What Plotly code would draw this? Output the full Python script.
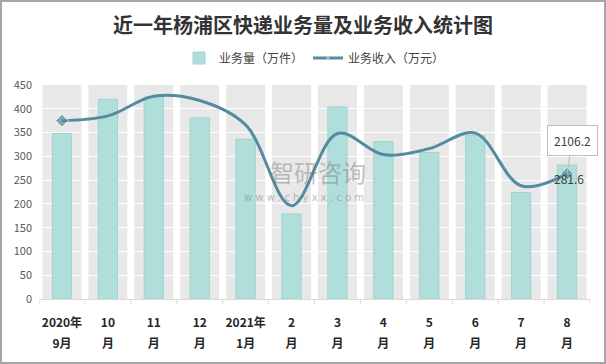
import plotly.graph_objects as go

categories = ["2020年<br>9月", "10<br>月", "11<br>月", "12<br>月", "2021年<br>1月", "2<br>月",
              "3<br>月", "4<br>月", "5<br>月", "6<br>月", "7<br>月", "8<br>月"]
volume = [348, 420, 425, 381, 336, 179, 404, 331, 308, 344, 224, 281.6]          # 业务量（万件）
revenue = [3000, 3080, 3410, 3340, 2930, 1570, 2785, 2430, 2530, 2790, 1905, 2106.2]  # 业务收入（万元）
y_ticks = list(range(0, 451, 50))

W, H = 606, 364
ML, MR, MT, MB = 39, 16, 85, 65
PW, PH = W - ML - MR, H - MT - MB
FONT = "Noto Sans CJK SC"


def px(x):
    return (x - ML) / PW


def py(y):
    return (H - MB - y) / PH


xs = list(range(len(categories)))

fig = go.Figure()
fig.add_trace(go.Bar(
    x=xs, y=volume, name="业务量（万件）", width=0.42,
    marker=dict(color="rgb(176,222,218)", line=dict(color="rgb(160,212,208)", width=1)),
    yaxis="y",
))
sizes = [0] * len(revenue)
sizes[0] = 10
sizes[-1] = 10
fig.add_trace(go.Scatter(
    x=xs, y=revenue, name="业务收入（万元）", mode="lines+markers",
    line=dict(color="rgb(84,139,161)", width=3, shape="spline", smoothing=1.0),
    marker=dict(symbol="diamond", size=sizes, color="rgb(84,139,161)"),
    yaxis="y2",
))

# gray category bands
for i in xs:
    fig.add_shape(type="rect", xref="x", yref="y", x0=i - 0.425, x1=i + 0.425,
                  y0=0, y1=y_ticks[-1], fillcolor="#E8E8E8", line=dict(width=0), layer="below")

# outer border
fig.add_shape(type="rect", xref="paper", yref="paper", x0=px(1), x1=px(W - 1), y0=py(H - 1), y1=py(1),
              line=dict(color="#A6A6A6", width=2), fillcolor="rgba(0,0,0,0)", layer="above")

# data labels
fig.add_annotation(x=xs[-1], y=volume[-1], xref="x", yref="y", text=f"{volume[-1]}",
                   showarrow=False, yshift=-13, xshift=2,
                   font=dict(family=FONT, size=12, color="#404040"))
fig.add_annotation(x=xs[-1], y=revenue[-1], xref="x", yref="y2", text=f"{revenue[-1]}",
                   showarrow=True, arrowhead=0, arrowwidth=1, arrowcolor="#BFBFBF",
                   ax=5, ay=-33, bgcolor="white", bordercolor="#BFBFBF", borderwidth=1, borderpad=6,
                   font=dict(family=FONT, size=12, color="#404040"))

# watermark
fig.add_annotation(x=px(318), y=py(171), xref="paper", yref="paper", text="智研咨询", showarrow=False,
                   font=dict(family=FONT, size=24, color="rgba(120,120,120,0.45)"))
fig.add_annotation(x=px(304), y=py(197), xref="paper", yref="paper", text="w w w . c h y x x . c o m",
                   showarrow=False, font=dict(family="DejaVu Sans", size=10, color="rgba(120,120,120,0.5)"))

ticktext = ["<b><span style='font-size:12px'>" + c.replace("<br>", "</span><br><span style='font-size:12px'>")
            + "</span></b>" for c in categories]

fig.update_layout(
    width=W, height=H,
    margin=dict(l=ML, r=MR, t=MT, b=MB),
    paper_bgcolor="white", plot_bgcolor="white",
    title=dict(text="<b>近一年杨浦区快递业务量及业务收入统计图</b>", x=0.5, xanchor="center",
               y=1 - 26 / H, yanchor="middle", yref="container",
               font=dict(family=FONT, size=20, color="#333333")),
    legend=dict(orientation="h", x=0.5, xanchor="center", y=py(58), yanchor="middle",
                font=dict(family=FONT, size=12, color="#404040"), itemwidth=30,
                bgcolor="rgba(0,0,0,0)"),
    bargap=0.2,
    xaxis=dict(type="linear", tickmode="array", tickvals=xs, ticktext=ticktext,
               range=[-0.5, len(xs) - 0.5], showgrid=False, showline=True, linecolor="#D9D9D9",
               ticks="", tickfont=dict(family=FONT, size=16, color="#262626"), zeroline=False,
               ticklabelstandoff=8),
    yaxis=dict(range=[0, y_ticks[-1]], tickvals=y_ticks, showgrid=True, gridcolor="white", gridwidth=1,
               zeroline=False, showline=False, tickfont=dict(family=FONT, size=11, color="#595959"),
               ticklabelstandoff=6),
    yaxis2=dict(range=[0, 3600], overlaying="y", side="right", visible=False, showgrid=False),
)

# category boundary tick marks on x axis
for i in range(len(xs) + 1):
    fig.add_shape(type="line", xref="x", yref="paper", x0=i - 0.5, x1=i - 0.5, y0=0, y1=-5 / PH,
                  line=dict(color="#D9D9D9", width=1))

fig.write_html("out.html", config={"displayModeBar": False},
               post_script="document.body.style.margin='0';document.body.style.overflow='hidden';")
